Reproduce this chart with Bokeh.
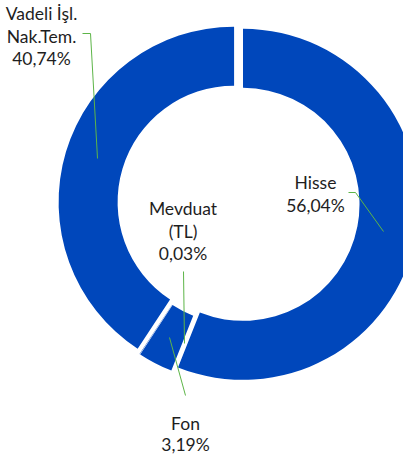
import math
from bokeh.plotting import figure
from bokeh.models import ColumnDataSource
from bokeh.core.properties import value
from bokeh.embed import file_html
from bokeh.resources import INLINE

# ---- data ----
categories = ["Hisse", "Fon", "Mevduat (TL)", "Vadeli İşl. Nak.Tem."]
shares = [56.04, 3.19, 0.03, 40.74]
label_lines = [["Hisse"], ["Fon"], ["Mevduat", "(TL)"], ["Vadeli İşl.", "Nak.Tem."]]

# ---- layout (reference pixel space, y down) ----
CX, CY = 238.0, 203.0
R_OUT, R_IN = 175.5, 116.5
EXPLODE = 4.6
label_pos = [(315, 182), (185, 423), (182.5, 208), (41, 13)]
line_step = [23, 21, 22.5, 22.5]
leaders = [
    [(348, 192), (355, 192), (383, 231)],
    [(185, 395), (169, 337)],
    [(183, 271), (184, 343)],
    [(82, 33), (90, 33), (97, 158)],
]

BLUE = "#0047BB"
GREEN = "#5DB548"
TEXT = "#1e1e1e"
FONT = "Lato"

W, H = 403, 454
SHIFT = 0
p = figure(width=W, height=H, output_backend="svg", toolbar_location=None,
           x_range=(SHIFT, SHIFT + W), y_range=(-(SHIFT + H), -SHIFT),
           min_border=0)
p.axis.visible = False
p.grid.visible = False
p.outline_line_color = None
p.background_fill_color = "white"
p.border_fill_color = "white"

total = sum(shares)
xs, ys, sa, ea = [], [], [], []
cum = 0.0
for v in shares:
    s = cum / total
    e = (cum + v) / total
    cum += v
    mid = math.pi / 2 - 2 * math.pi * (s + e) / 2
    xs.append(CX + EXPLODE * math.cos(mid))
    ys.append(-CY + EXPLODE * math.sin(mid))
    sa.append(math.pi / 2 - 2 * math.pi * s)
    ea.append(math.pi / 2 - 2 * math.pi * e)

src = ColumnDataSource(dict(x=xs, y=ys, start=sa, end=ea, cat=categories))
p.annular_wedge(x="x", y="y", inner_radius=R_IN, outer_radius=R_OUT,
                start_angle="start", end_angle="end", direction="clock",
                source=src, fill_color=BLUE, line_color=None)

# leader lines
for pts in leaders:
    p.line([q[0] for q in pts], [-q[1] for q in pts], line_color=GREEN, line_width=1)

# labels
tx, ty, tt = [], [], []
for lines, v, (lx, ly), step in zip(label_lines, shares, label_pos, line_step):
    all_lines = lines + [f"{v:.2f}".replace(".", ",") + "%"]
    for i, t in enumerate(all_lines):
        tx.append(lx)
        ty.append(-(ly + i * step))
        tt.append(t)
p.text(x=tx, y=ty, text=tt, text_align="center", text_baseline="middle",
       text_font=value(FONT), text_font_size="17.5px", text_color=TEXT)

open("out.html", "w").write(file_html(p, INLINE))
